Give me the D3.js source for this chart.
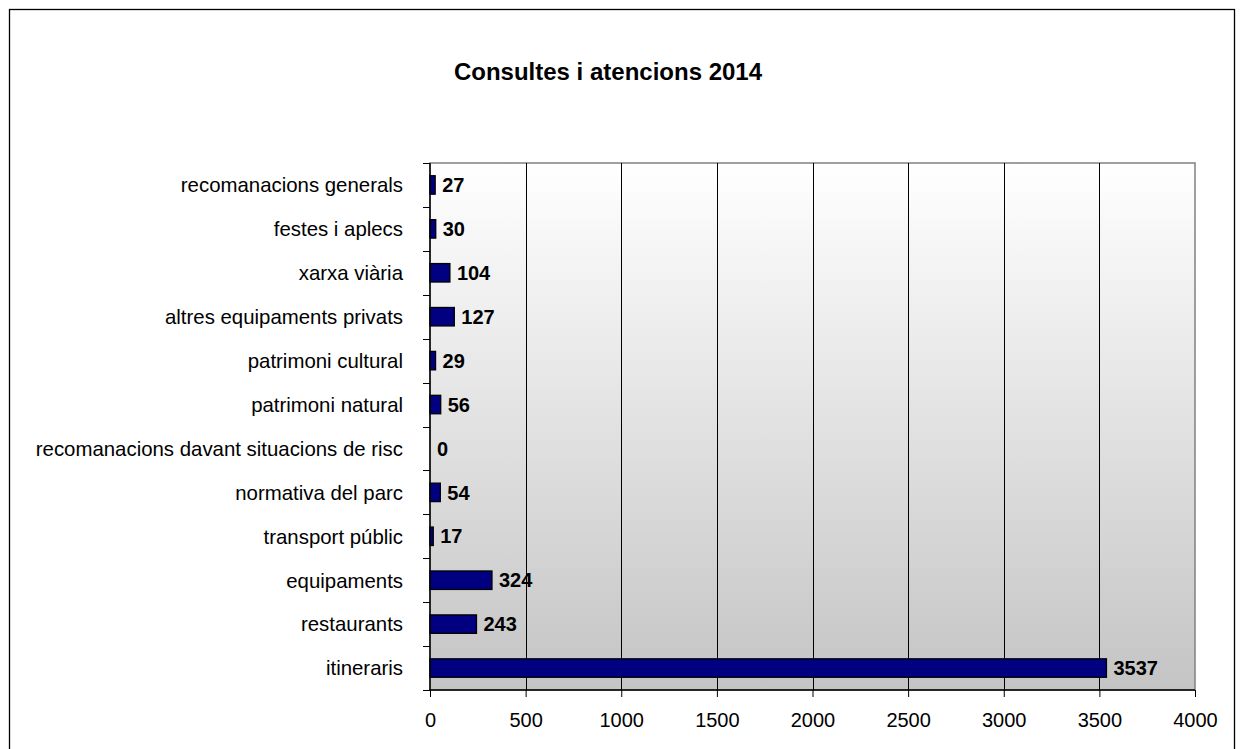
<!DOCTYPE html>
<html>
<head>
<meta charset="utf-8">
<script src="https://cdn.jsdelivr.net/npm/d3@7"></script>
<style>
  body { margin: 0; background: #fff; }
  text { font-family: "Liberation Sans", Arial, sans-serif; }
</style>
</head>
<body>
<script>
var categories = ["recomanacions generals", "festes i aplecs", "xarxa viària",
  "altres equipaments privats", "patrimoni cultural", "patrimoni natural",
  "recomanacions davant situacions de risc", "normativa del parc",
  "transport públic", "equipaments", "restaurants", "itineraris"];
var values = [27, 30, 104, 127, 29, 56, 0, 54, 17, 324, 243, 3537];
var xTicks = [0, 500, 1000, 1500, 2000, 2500, 3000, 3500, 4000];
var title = "Consultes i atencions 2014";

var W = 1240, H = 749;
var plot = { left: 430, top: 163, right: 1195, bottom: 690 };

var svg = d3.select("body").append("svg")
  .attr("width", W).attr("height", H);

// outer frame (bottom edge falls off the picture)
svg.append("rect")
  .attr("x", 9.5).attr("y", 9.5).attr("width", 1225).attr("height", 760)
  .attr("fill", "#fff").attr("stroke", "#000").attr("stroke-width", 1.3);

var grad = svg.append("defs").append("linearGradient")
  .attr("id", "bg").attr("x1", 0).attr("y1", 0).attr("x2", 0).attr("y2", 1);
grad.append("stop").attr("offset", "0%").attr("stop-color", "#ffffff");
grad.append("stop").attr("offset", "100%").attr("stop-color", "#c4c4c4");

var x = d3.scaleLinear().domain([0, 4000]).range([plot.left, plot.right]);
var y = d3.scaleBand().domain(categories)
  .range([plot.top, plot.bottom]).paddingInner(0.58).paddingOuter(0.29);

svg.append("rect")
  .attr("x", plot.left).attr("y", plot.top)
  .attr("width", plot.right - plot.left).attr("height", plot.bottom - plot.top)
  .attr("fill", "url(#bg)").attr("stroke", "#808080").attr("stroke-width", 1.5);

// vertical gridlines
svg.selectAll(".grid").data(xTicks.slice(1, -1)).enter().append("line")
  .attr("x1", function (d) { return Math.round(x(d)) + 0.5; })
  .attr("x2", function (d) { return Math.round(x(d)) + 0.5; })
  .attr("y1", plot.top).attr("y2", plot.bottom)
  .attr("stroke", "#000").attr("stroke-width", 1);

// bars
svg.selectAll(".bar").data(values).enter().append("rect")
  .attr("x", x(0))
  .attr("y", function (d, i) { return y(categories[i]); })
  .attr("width", function (d) { return x(d) - x(0); })
  .attr("height", y.bandwidth())
  .attr("fill", "#000080")
  .attr("stroke", function (d) { return d > 0 ? "#000" : "none"; })
  .attr("stroke-width", 1.3);

// value labels
svg.selectAll(".val").data(values).enter().append("text")
  .attr("x", function (d) { return x(d) + 7; })
  .attr("y", function (d, i) { return y(categories[i]) + y.bandwidth() / 2; })
  .attr("dy", "0.36em")
  .attr("font-size", 20).attr("font-weight", "bold")
  .text(function (d) { return d; });

// x axis
var xAxis = d3.axisBottom(x).tickValues(xTicks).tickSize(7).tickPadding(16)
  .tickFormat(d3.format("d"));
var gx = svg.append("g").attr("transform", "translate(0," + plot.bottom + ")").call(xAxis);
gx.select(".domain").attr("stroke", "#000").attr("stroke-width", 1.5)
  .attr("d", "M" + plot.left + ",0H" + plot.right);
gx.selectAll(".tick line").attr("stroke", "#000");
gx.selectAll(".tick text").attr("font-size", 20).attr("fill", "#000")
  .style("font-family", "Liberation Sans, Arial, sans-serif");

// y axis: ticks between categories
var yEdge = d3.scaleLinear().domain([0, categories.length]).range([plot.top, plot.bottom]);
var gy = svg.append("g");
gy.append("line").attr("x1", plot.left).attr("x2", plot.left)
  .attr("y1", plot.top).attr("y2", plot.bottom)
  .attr("stroke", "#000").attr("stroke-width", 1.5);
gy.selectAll(".yt").data(d3.range(categories.length + 1)).enter().append("line")
  .attr("x1", plot.left - 7).attr("x2", plot.left)
  .attr("y1", function (d) { return Math.round(yEdge(d)) + 0.5; })
  .attr("y2", function (d) { return Math.round(yEdge(d)) + 0.5; })
  .attr("stroke", "#000");
gy.selectAll(".cat").data(categories).enter().append("text")
  .attr("x", plot.left - 27)
  .attr("y", function (d) { return y(d) + y.bandwidth() / 2; })
  .attr("dy", "0.36em")
  .attr("text-anchor", "end").attr("font-size", 20.4)
  .text(function (d) { return d; });

svg.append("text")
  .attr("x", 608).attr("y", 80)
  .attr("text-anchor", "middle").attr("font-size", 24).attr("font-weight", "bold")
  .text(title);
</script>
</body>
</html>
